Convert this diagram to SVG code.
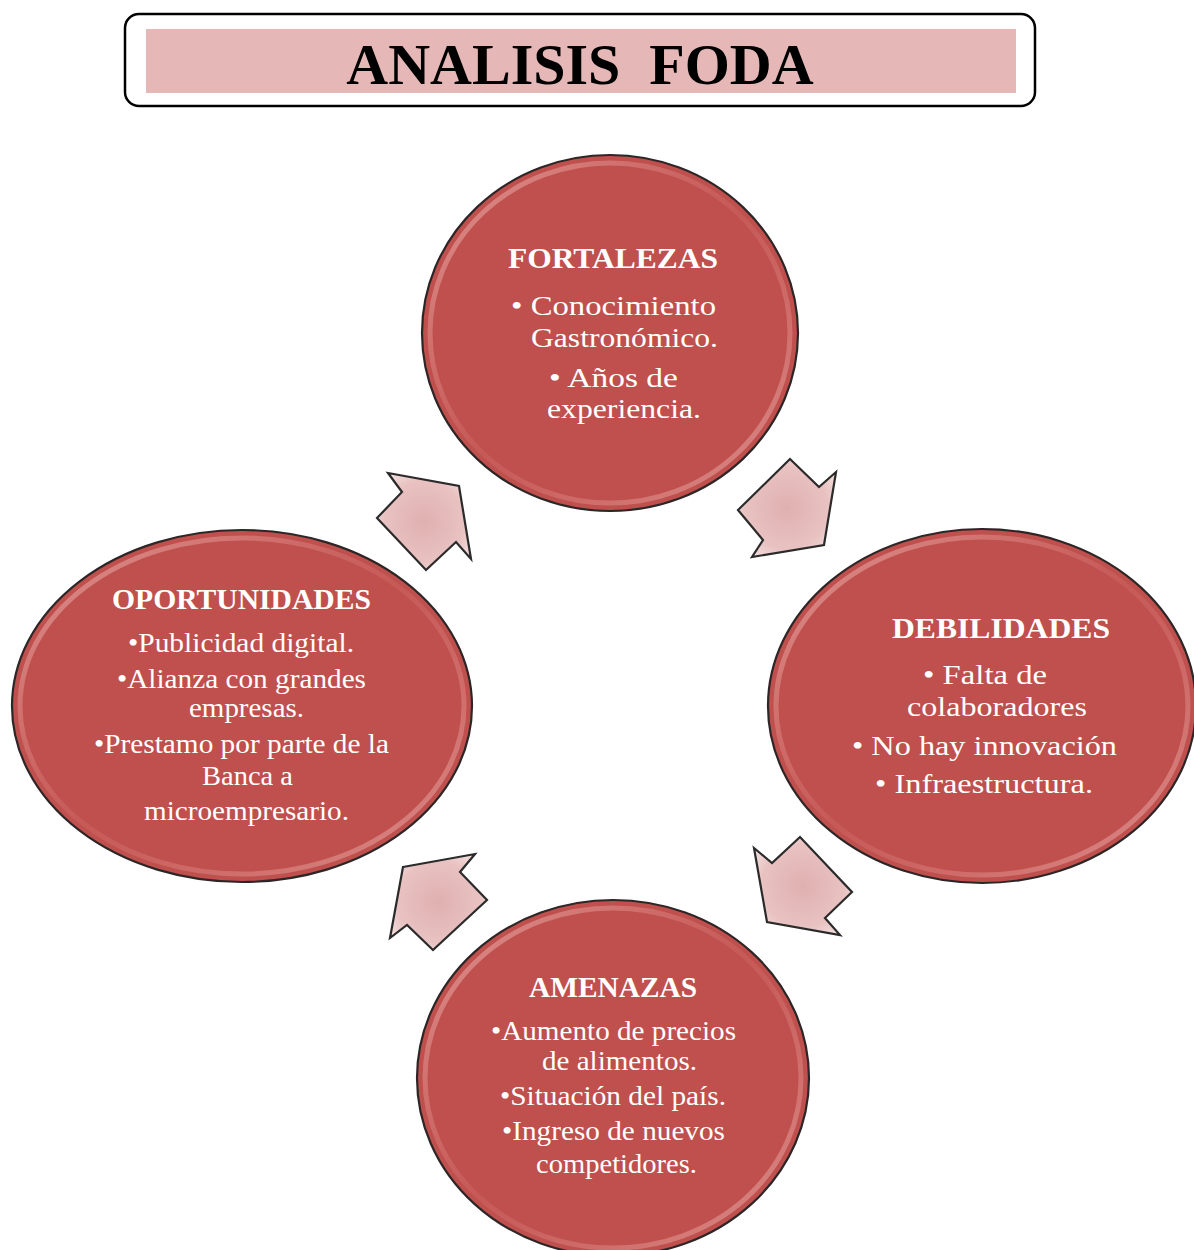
<svg xmlns="http://www.w3.org/2000/svg" width="1194" height="1250" viewBox="0 0 1194 1250">
<style>
.circ{fill:#C0504D;stroke:#2e2626;stroke-width:2.2}
.rim{fill:none;stroke:url(#rimG);stroke-width:5}
.hd{font-family:"Liberation Serif","Times New Roman",serif;font-weight:bold;fill:#fff;font-size:30px}
.bd{font-family:"Liberation Serif","Times New Roman",serif;fill:#fff;font-size:28px}
.arr{fill:url(#arrG);stroke:#2b2b2b;stroke-width:2.2;stroke-linejoin:miter}
.ttl{font-family:"Liberation Serif","Times New Roman",serif;font-weight:bold;font-size:58px;fill:#000}
</style>
<defs>
<linearGradient id="rimG" x1="0" y1="0" x2="1" y2="1">
<stop offset="0" stop-color="#f4c9c7" stop-opacity="0.6"/>
<stop offset="0.5" stop-color="#e6908d" stop-opacity="0.15"/>
<stop offset="1" stop-color="#f4c9c7" stop-opacity="0.55"/>
</linearGradient>
<radialGradient id="arrG" cx="0.5" cy="0.5" r="0.6">
<stop offset="0" stop-color="#e0b0b0"/>
<stop offset="0.7" stop-color="#e8c2c1"/>
<stop offset="1" stop-color="#f3dfdf"/>
</radialGradient>
</defs>
<rect width="1194" height="1250" fill="#fff"/>
<g id="title">
<rect x="125" y="14" width="910" height="92" rx="14" fill="#fff" stroke="#000" stroke-width="2.5"/>
<rect x="146" y="29" width="870" height="64" fill="#E5B8B7"/>
<text class="ttl" x="580" y="84" text-anchor="middle" xml:space="preserve">ANALISIS  FODA</text>
</g>
<g id="fortalezas">
<ellipse class="circ" cx="610" cy="333" rx="188" ry="178"/>
<ellipse class="rim" cx="610" cy="333" rx="180" ry="170"/>
<text class="hd" x="508" y="268" textLength="210" lengthAdjust="spacingAndGlyphs">FORTALEZAS</text>
<text class="bd" x="511" y="315" textLength="205" lengthAdjust="spacingAndGlyphs">• Conocimiento</text>
<text class="bd" x="531" y="347" textLength="187" lengthAdjust="spacingAndGlyphs">Gastronómico.</text>
<text class="bd" x="549" y="387" textLength="129" lengthAdjust="spacingAndGlyphs">• Años de</text>
<text class="bd" x="547" y="418" textLength="154" lengthAdjust="spacingAndGlyphs">experiencia.</text>
</g>
<g id="debilidades">
<ellipse class="circ" cx="982" cy="706" rx="214" ry="177"/>
<ellipse class="rim" cx="982" cy="706" rx="206" ry="169"/>
<text class="hd" x="892" y="638" textLength="218" lengthAdjust="spacingAndGlyphs">DEBILIDADES</text>
<text class="bd" x="923" y="684" textLength="124" lengthAdjust="spacingAndGlyphs">• Falta de</text>
<text class="bd" x="907" y="716" textLength="180" lengthAdjust="spacingAndGlyphs">colaboradores</text>
<text class="bd" x="852" y="755" textLength="265" lengthAdjust="spacingAndGlyphs">• No hay innovación</text>
<text class="bd" x="875" y="793" textLength="218" lengthAdjust="spacingAndGlyphs">• Infraestructura.</text>
</g>
<g id="oportunidades">
<ellipse class="circ" cx="242" cy="706" rx="230" ry="176"/>
<ellipse class="rim" cx="242" cy="706" rx="222" ry="168"/>
<text class="hd" x="112" y="609" textLength="259" lengthAdjust="spacingAndGlyphs">OPORTUNIDADES</text>
<text class="bd" x="128" y="652" textLength="226" lengthAdjust="spacingAndGlyphs">•Publicidad digital.</text>
<text class="bd" x="117" y="688" textLength="249" lengthAdjust="spacingAndGlyphs">•Alianza con grandes</text>
<text class="bd" x="189" y="717" textLength="115" lengthAdjust="spacingAndGlyphs">empresas.</text>
<text class="bd" x="94" y="753" textLength="295" lengthAdjust="spacingAndGlyphs">•Prestamo por parte de la</text>
<text class="bd" x="202" y="785" textLength="91" lengthAdjust="spacingAndGlyphs">Banca a</text>
<text class="bd" x="144" y="820" textLength="205" lengthAdjust="spacingAndGlyphs">microempresario.</text>
</g>
<g id="amenazas">
<ellipse class="circ" cx="613" cy="1078" rx="196" ry="178"/>
<ellipse class="rim" cx="613" cy="1078" rx="188" ry="170"/>
<text class="hd" x="529" y="997" textLength="168" lengthAdjust="spacingAndGlyphs">AMENAZAS</text>
<text class="bd" x="491" y="1040" textLength="245" lengthAdjust="spacingAndGlyphs">•Aumento de precios</text>
<text class="bd" x="542" y="1070" textLength="155" lengthAdjust="spacingAndGlyphs">de alimentos.</text>
<text class="bd" x="500" y="1105" textLength="226" lengthAdjust="spacingAndGlyphs">•Situación del país.</text>
<text class="bd" x="502" y="1140" textLength="223" lengthAdjust="spacingAndGlyphs">•Ingreso de nuevos</text>
<text class="bd" x="536" y="1173" textLength="161" lengthAdjust="spacingAndGlyphs">competidores.</text>
</g>
<g id="connectors">
<polygon class="arr" points="388,473 459,486 471,559 456,542 426,570 377,518 402,492"/>
<polygon class="arr" points="790,459 819,487 836,472 824,545 752,557 763,540 738,510"/>
<polygon class="arr" points="754,848 772,863 800,837 852,892 825,918 840,935 767,922"/>
<polygon class="arr" points="403,867 475,854 460,872 487,900 433,950 407,925 390,938"/>
</g>
</svg>
